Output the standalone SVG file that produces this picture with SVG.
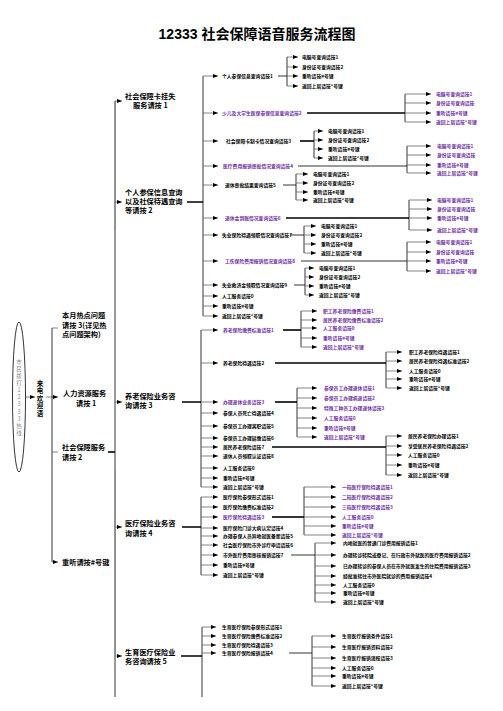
<svg xmlns="http://www.w3.org/2000/svg" width="503" height="711" viewBox="0 0 503 711">
<style>
text{font-family:"Noto Sans CJK SC","Noto Sans",sans-serif;font-weight:bold;fill:#000}
.s{font-size:4.8px}
.m{font-size:7.2px}
.p{fill:#7030A0}
.v{writing-mode:vertical-rl;text-orientation:upright}
.g{fill:#888;font-weight:normal;font-size:5.5px;letter-spacing:1.6px}
.w{font-size:6.5px;letter-spacing:1px}
.ln{stroke:#000;stroke-width:0.8;fill:none}
.gr{stroke:#888;stroke-width:0.9;fill:none}
.th{stroke:#000;stroke-width:1.6;fill:none}
.ar{stroke:#666;stroke-width:0.8;fill:none;marker-end:url(#ah)}
</style>
<defs>
<marker id="ah" markerUnits="userSpaceOnUse" markerWidth="5" markerHeight="4" refX="5" refY="2" orient="auto"><path d="M0,0 L5,2 L0,4 Z" fill="#000"/></marker>
</defs>
<rect width="503" height="711" fill="#fff"/>
<text x="257" y="39" text-anchor="middle" style="font-family:'Liberation Sans','Noto Sans CJK SC',sans-serif;font-size:14px;font-weight:bold">12333 社会保障语音服务流程图</text>

<g id="connectors">
<path class="ar" d="M26,397 H35"/>
<path class="ar" d="M46,397 H58"/>
<path class="ln" d="M52,328 V562"/>
<path class="ar" d="M52,328 H58 M52,452 H58 M52,562 H58"/>
<path class="th" d="M108,452 H115"/>
<path class="ln" d="M115,101 V697"/>
<path class="gr" d="M115,101 V230 M115,470 V655"/>
<path class="ar" d="M115,101 H122"/>
<path class="ar" d="M115,202 H122"/>
<path class="ar" d="M115,402 H122"/>
<path class="ar" d="M115,527 H122"/>
<path class="ar" d="M115,656 H122"/>
<path class="th" d="M187,202 H203 M182,402 H201 M182,527 H201 M181,656 H202"/>
<path class="ln" d="M203,76 V316 M201,330 V487 M201,497 V575 M202,627 V697"/>
<!-- group A -->
<path class="ar" d="M203,76 H218"/><path class="ar" d="M203,113 H218"/><path class="ar" d="M203,141 H218"/><path class="ar" d="M203,166 H218"/><path class="ar" d="M203,185 H218"/><path class="ar" d="M203,218 H218"/><path class="ar" d="M203,235 H218"/><path class="ar" d="M203,261 H218"/><path class="ar" d="M203,285 H218"/><path class="ar" d="M203,296 H218"/><path class="ar" d="M203,306 H218"/><path class="ar" d="M203,316 H218"/>
<path class="ln" d="M278,76 H287 M287,57 V86"/>
<path class="ar" d="M287,57 H298"/><path class="ar" d="M287,67 H298"/><path class="ar" d="M287,76 H298"/><path class="ar" d="M287,86 H298"/>
<path class="th" d="M307,113 H405"/><path class="ln" d="M405,94 V122"/>
<path class="ar" d="M405,94 H431"/><path class="ar" d="M405,103 H431"/><path class="ar" d="M405,113 H431"/><path class="ar" d="M405,122 H431"/>
<path class="th" d="M300,141 H314"/><path class="ln" d="M314,131 V158"/>
<path class="ar" d="M314,131 H323"/><path class="ar" d="M314,140 H323"/><path class="ar" d="M314,149 H323"/><path class="ar" d="M314,158 H323"/>
<path class="ln" d="M298,166 H407 M407,146 V173"/>
<path class="ar" d="M407,146 H431"/><path class="ar" d="M407,155 H431"/><path class="ar" d="M407,165 H431"/><path class="ar" d="M407,173 H431"/>
<path class="ln" d="M283,185 H296 M296,174 V200"/>
<path class="ar" d="M296,174 H308"/><path class="ar" d="M296,183 H308"/><path class="ar" d="M296,192 H308"/><path class="ar" d="M296,200 H308"/>
<path class="th" d="M286,218 H409"/><path class="ln" d="M409,200 V230"/>
<path class="ar" d="M409,200 H432"/><path class="ar" d="M409,209 H432"/><path class="ar" d="M409,218 H432"/><path class="ar" d="M409,230 H432"/>
<path class="ln" d="M290,235 H304 M304,226 V253"/>
<path class="ar" d="M304,226 H316"/><path class="ar" d="M304,235 H316"/><path class="ar" d="M304,244 H316"/><path class="ar" d="M304,253 H316"/>
<path class="ln" d="M301,261 H407 M407,242 V271"/>
<path class="ar" d="M407,242 H431"/><path class="ar" d="M407,252 H431"/><path class="ar" d="M407,261 H431"/><path class="ar" d="M407,271 H431"/>
<path class="ln" d="M294,285 H305 M305,268 V295"/>
<path class="ar" d="M305,268 H314"/><path class="ar" d="M305,277 H314"/><path class="ar" d="M305,286 H314"/><path class="ar" d="M305,295 H314"/>
<!-- group B -->
<path class="ar" d="M201,330 H218"/><path class="ar" d="M201,363 H218"/><path class="ar" d="M201,402 H218"/><path class="ar" d="M201,413 H218"/><path class="ar" d="M201,426 H218"/><path class="ar" d="M201,438 H218"/><path class="ar" d="M201,447 H218"/><path class="ar" d="M201,456 H218"/><path class="ar" d="M201,468 H218"/><path class="ar" d="M201,478 H218"/><path class="ar" d="M201,487 H218"/>
<path class="th" d="M283,330 H301"/><path class="ln" d="M301,311 V347"/>
<path class="ar" d="M301,311 H317"/><path class="ar" d="M301,320 H317"/><path class="ar" d="M301,328 H317"/><path class="ar" d="M301,338 H317"/><path class="ar" d="M301,347 H317"/>
<path class="th" d="M275,363 H386"/><path class="ln" d="M386,352 V388"/>
<path class="ar" d="M386,352 H402"/><path class="ar" d="M386,361 H402"/><path class="ar" d="M386,371 H402"/><path class="ar" d="M386,379 H402"/><path class="ar" d="M386,388 H402"/>
<path class="th" d="M275,402 H297"/><path class="ln" d="M297,388 V437"/>
<path class="ar" d="M297,388 H317"/><path class="ar" d="M297,398 H317"/><path class="ar" d="M297,408 H317"/><path class="ar" d="M297,418 H317"/><path class="ar" d="M297,428 H317"/><path class="ar" d="M297,437 H317"/>
<path class="th" d="M272,447 H386"/><path class="ln" d="M386,436 V475"/>
<path class="ar" d="M386,436 H402"/><path class="ar" d="M386,446 H402"/><path class="ar" d="M386,455 H402"/><path class="ar" d="M386,465 H402"/><path class="ar" d="M386,475 H402"/>
<!-- group C -->
<path class="ar" d="M201,497 H218"/><path class="ar" d="M201,507 H218"/><path class="ar" d="M201,517 H218"/><path class="ar" d="M201,528 H218"/><path class="ar" d="M201,536 H218"/><path class="ar" d="M201,545 H218"/><path class="ar" d="M201,555 H218"/><path class="ar" d="M201,565 H218"/><path class="ar" d="M201,575 H218"/>
<path class="th" d="M272,517 H304"/><path class="ln" d="M304,487 V535"/>
<path class="ar" d="M304,487 H336"/><path class="ar" d="M304,497 H336"/><path class="ar" d="M304,507 H336"/><path class="ar" d="M304,517 H336"/><path class="ar" d="M304,526 H336"/><path class="ar" d="M304,535 H336"/>
<path class="ln" d="M291,555 H315 M315,543 V602"/>
<path class="ar" d="M315,543 H336"/><path class="ar" d="M315,555 H336"/><path class="ar" d="M315,566 H336"/><path class="ar" d="M315,576 H336"/><path class="ar" d="M315,585 H336"/><path class="ar" d="M315,593 H336"/><path class="ar" d="M315,602 H336"/>
<!-- group D -->
<path class="ar" d="M202,627 H216"/><path class="ar" d="M202,636 H216"/><path class="ar" d="M202,645 H216"/><path class="ar" d="M202,653 H216"/>
<path class="ln" d="M289,653 H312 M312,636 V686"/>
<path class="ar" d="M312,636 H336"/><path class="ar" d="M312,647 H336"/><path class="ar" d="M312,658 H336"/><path class="ar" d="M312,668 H336"/><path class="ar" d="M312,676 H336"/><path class="ar" d="M312,686 H336"/>
</g>

<g id="n-start"><ellipse cx="19" cy="397" rx="6.5" ry="75" fill="#fff" stroke="#000" stroke-width="0.8"/>
<text class="g v" x="19" y="359">市民拨打12333热线</text></g>
<g id="n-welcome"><text class="w v" x="40" y="380">来电欢迎语</text></g>

<g id="n-hot"><text class="m"><tspan x="62" y="318">本月热点问题</tspan><tspan x="62" y="328">请按 3(详见热</tspan><tspan x="62" y="337">点问题架构)</tspan></text></g>
<g id="n-hr"><text class="m"><tspan x="63" y="396">人力资源服务</tspan><tspan x="76" y="406">请按 1</tspan></text></g>
<g id="n-ss"><text class="m"><tspan x="62" y="450">社会保障服务</tspan><tspan x="62" y="460">请按 2</tspan></text></g>
<g id="n-repeat1"><text class="m" x="62" y="565">重听请按#号键</text></g>

<g id="n-card"><text class="m"><tspan x="125" y="99">社会保障卡挂失</tspan><tspan x="133" y="108">服务请按 1</tspan></text></g>
<g id="n-query"><text class="m"><tspan x="125" y="195">个人参保信息查询</tspan><tspan x="125" y="204">以及社保待遇查询</tspan><tspan x="125" y="213">等请按 2</tspan></text></g>
<g id="n-pension"><text class="m"><tspan x="125" y="399">养老保险业务咨</tspan><tspan x="125" y="408">询请按 3</tspan></text></g>
<g id="n-medical"><text class="m"><tspan x="125" y="526">医疗保险业务咨</tspan><tspan x="125" y="536">询请按 4</tspan></text></g>
<g id="n-maternity"><text class="m"><tspan x="125" y="655">生育医疗保险业</tspan><tspan x="125" y="664">务咨询请按 5</tspan></text></g>

<g id="n-a1"><text class="s" x="222" y="78">个人参保信息查询请按1</text></g>
<g id="n-a1s"><text class="s"><tspan x="302" y="59">电脑号查询请按1</tspan><tspan x="302" y="69">身份证号查询请按2</tspan><tspan x="302" y="78">重听请按#号键</tspan><tspan x="302" y="88">返回上层请按*号键</tspan></text></g>
<g id="n-a2"><text class="s p" x="222" y="115">少儿及大学生医保参保信息查询请按2</text></g>
<g id="n-a2s"><text class="s p"><tspan x="436" y="96">电脑号查询请按1</tspan><tspan x="436" y="105">身份证号查询请按</tspan><tspan x="436" y="115">重听请按#号键</tspan><tspan x="436" y="124">返回上层请按*号键</tspan></text></g>
<g id="n-a3"><text class="s" x="226" y="143">社会保障卡制卡情况查询请按3</text></g>
<g id="n-a3s"><text class="s"><tspan x="328" y="133">电脑号查询请按1</tspan><tspan x="328" y="142">身份证号查询请按2</tspan><tspan x="328" y="151">重听请按#号键</tspan><tspan x="328" y="160">返回上层请按*号键</tspan></text></g>
<g id="n-a4"><text class="s p" x="223" y="168">医疗费用报销审批情况查询请按4</text></g>
<g id="n-a4s"><text class="s p"><tspan x="437" y="148">电脑号查询请按1</tspan><tspan x="437" y="157">身份证号查询请按</tspan><tspan x="437" y="167">重听请按#号键</tspan><tspan x="437" y="175">返回上层请按*号键</tspan></text></g>
<g id="n-a5"><text class="s" x="225" y="187">退休审批结果查询请按5</text></g>
<g id="n-a5s"><text class="s"><tspan x="313" y="176">电脑号查询请按1</tspan><tspan x="313" y="185">身份证号查询请按2</tspan><tspan x="313" y="194">重听请按#号键</tspan><tspan x="313" y="202">返回上层请按*号键</tspan></text></g>
<g id="n-a6"><text class="s p" x="225" y="220">退休金到账情况查询请按6</text></g>
<g id="n-a6s"><text class="s p"><tspan x="437" y="202">电脑号查询请按1</tspan><tspan x="437" y="211">身份证号查询请按</tspan><tspan x="437" y="220">重听请按#号键</tspan><tspan x="437" y="232">返回上层请按*号键</tspan></text></g>
<g id="n-a7"><text class="s" x="222" y="237">失业保险待遇领取情况查询请按7</text></g>
<g id="n-a7s"><text class="s"><tspan x="321" y="228">电脑号查询请按1</tspan><tspan x="321" y="237">身份证号查询请按2</tspan><tspan x="321" y="246">重听请按#号键</tspan><tspan x="321" y="255">返回上层请按*号键</tspan></text></g>
<g id="n-a8"><text class="s p" x="225" y="263">工伤保险费用报销情况查询请按8</text></g>
<g id="n-a8s"><text class="s p"><tspan x="436" y="244">电脑号查询请按1</tspan><tspan x="436" y="254">身份证号查询请按</tspan><tspan x="436" y="263">重听请按#号键</tspan><tspan x="436" y="273">返回上层请按*号键</tspan></text></g>
<g id="n-a9"><text class="s" x="222" y="287">失业救济金领取情况查询请按9</text></g>
<g id="n-a9s"><text class="s"><tspan x="319" y="270">电脑号查询请按1</tspan><tspan x="319" y="279">身份证号查询请按2</tspan><tspan x="319" y="288">重听请按#号键</tspan><tspan x="319" y="297">返回上层请按*号键</tspan></text></g>
<g id="n-a10"><text class="s" x="222" y="298">人工服务请按0</text></g>
<g id="n-a11"><text class="s" x="222" y="308">重听请按#号键</text></g>
<g id="n-a12"><text class="s" x="222" y="318">返回上层请按*号键</text></g>

<g id="n-b1"><text class="s p" x="223" y="332">养老保险缴费标准请按1</text></g>
<g id="n-b1s"><text class="s p"><tspan x="323" y="313">职工养老保险缴费请按1</tspan><tspan x="323" y="322">居民养老保险缴费标准请按2</tspan><tspan x="323" y="330">人工服务请按0</tspan><tspan x="323" y="340">重听请按#号键</tspan><tspan x="323" y="349">返回上层请按*号键</tspan></text></g>
<g id="n-b2"><text class="s" x="223" y="365">养老保险待遇请按2</text></g>
<g id="n-b2s"><text class="s"><tspan x="409" y="354">职工养老保险待遇请按1</tspan><tspan x="409" y="363">居民养老保险待遇标准请按2</tspan><tspan x="409" y="373">人工服务请按0</tspan><tspan x="409" y="381">重听请按#号键</tspan><tspan x="409" y="390">返回上层请按*号键</tspan></text></g>
<g id="n-b3"><text class="s p" x="223" y="404">办理退休业务请按3</text></g>
<g id="n-b3s"><text class="s p"><tspan x="324" y="390">参保员工办理退休请按1</tspan><tspan x="324" y="400">参保员工办理病退请按2</tspan><tspan x="324" y="410">特殊工种员工办理退休请按3</tspan><tspan x="324" y="420">人工服务请按0</tspan><tspan x="324" y="430">重听请按#号键</tspan><tspan x="324" y="439">返回上层请按*号键</tspan></text></g>
<g id="n-b4"><text class="s" x="223" y="415">参保人员死亡待遇请按4</text></g>
<g id="n-b5"><text class="s" x="223" y="428">参保员工办理离职请按5</text></g>
<g id="n-b6"><text class="s" x="223" y="440">参保员工办理延缴请按6</text></g>
<g id="n-b7"><text class="s" x="223" y="449">居民养老保险请按7</text></g>
<g id="n-b7s"><text class="s"><tspan x="408" y="438">居民养老保险办理请按1</tspan><tspan x="408" y="448">享受居民养老保险待遇请按2</tspan><tspan x="408" y="457">人工服务请按0</tspan><tspan x="408" y="467">重听请按#号键</tspan><tspan x="408" y="477">返回上层请按*号键</tspan></text></g>
<g id="n-b8"><text class="s" x="223" y="458">退休人员领取认证请按8</text></g>
<g id="n-b9"><text class="s" x="223" y="470">人工服务请按0</text></g>
<g id="n-b10"><text class="s" x="223" y="480">重听请按#号键</text></g>
<g id="n-b11"><text class="s" x="223" y="489">返回上层请按*号键</text></g>

<g id="n-c1"><text class="s" x="223" y="499">医疗保险参保形式请按1</text></g>
<g id="n-c2"><text class="s" x="223" y="509">医疗保险缴费标准请按2</text></g>
<g id="n-c3"><text class="s p" x="223" y="519">医疗保险待遇请按3</text></g>
<g id="n-c3s"><text class="s p"><tspan x="342" y="489">一档医疗保险待遇请按1</tspan><tspan x="342" y="499">二档医疗保险待遇请按2</tspan><tspan x="342" y="509">三档医疗保险待遇请按3</tspan><tspan x="342" y="519">人工服务请按0</tspan><tspan x="342" y="528">重听请按#号键</tspan><tspan x="342" y="537">返回上层请按*号键</tspan></text></g>
<g id="n-c4"><text class="s" x="223" y="530">医疗保险门诊大病认定请按4</text></g>
<g id="n-c5"><text class="s" x="223" y="538">办理参保人员异地就医备案请按5</text></g>
<g id="n-c6"><text class="s" x="223" y="547">社会医疗保险市外诊疗申请请按6</text></g>
<g id="n-c7"><text class="s" x="223" y="557">市外医疗费用审核报销请按7</text></g>
<g id="n-c7s"><text class="s"><tspan x="343" y="545">内地就医的普通门诊费用报销请按1</tspan><tspan x="343" y="557">办理转诊转院或登记、在行政市外就医的医疗费用报销请按2</tspan><tspan x="343" y="568">已办理转诊的参保人员在市外就医发生的住院费用报销请按3</tspan><tspan x="343" y="578">经批准转往市外医院就诊的费用报销请按4</tspan><tspan x="343" y="587">人工服务请按0</tspan><tspan x="343" y="595">重听请按#号键</tspan><tspan x="343" y="604">返回上层请按*号键</tspan></text></g>
<g id="n-c8"><text class="s" x="223" y="567">重听请按#号键</text></g>
<g id="n-c9"><text class="s" x="223" y="577">返回上层请按*号键</text></g>

<g id="n-d1"><text class="s" x="222" y="629">生育医疗保险参保形式请按1</text></g>
<g id="n-d2"><text class="s" x="222" y="638">生育医疗保险缴费标准请按2</text></g>
<g id="n-d3"><text class="s" x="222" y="647">生育医疗保险待遇请按3</text></g>
<g id="n-d4"><text class="s" x="222" y="655">生育医疗保险报销请按4</text></g>
<g id="n-d4s"><text class="s"><tspan x="342" y="638">生育医疗报销条件请按1</tspan><tspan x="342" y="649">生育医疗报销资料请按2</tspan><tspan x="342" y="660">生育医疗报销流程请按3</tspan><tspan x="342" y="670">人工服务请按0</tspan><tspan x="342" y="678">重听请按#号键</tspan><tspan x="342" y="688">返回上层请按*号键</tspan></text></g>
</svg>
